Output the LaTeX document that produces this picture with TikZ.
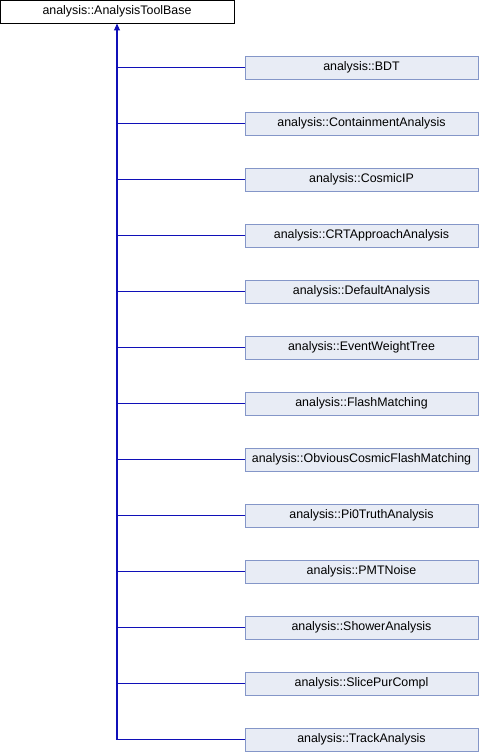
\documentclass[tikz,border=0pt]{standalone}
\usepackage{fontspec}
\setmainfont{Liberation Sans}
\usetikzlibrary{arrows.meta}
\definecolor{boxfill}{HTML}{E8ECF5}
\definecolor{boxdraw}{HTML}{8496C8}
\definecolor{linkcol}{HTML}{1010B8}
\tikzset{
  base/.style={draw=black, fill=white, line width=1pt, minimum width=234bp, minimum height=23bp, inner sep=0pt, font=\fontsize{12.4bp}{14bp}\selectfont},
  child/.style={draw=boxdraw, fill=boxfill, line width=1pt, minimum width=233bp, minimum height=23bp, inner sep=0pt, font=\fontsize{12.4bp}{14bp}\selectfont},
  linkline/.style={draw=linkcol, line width=1.1bp},
}
\begin{document}
\begin{tikzpicture}[x=1bp,y=-1bp]
\useasboundingbox (0,0) rectangle (480,752);
\node[base] (root) at (117,11.5) {analysis::AnalysisToolBase};
\node[child] (c0) at (361.5,67.5) {analysis::BDT};
\node[child] (c1) at (361.5,123.5) {analysis::ContainmentAnalysis};
\node[child] (c2) at (361.5,179.5) {analysis::CosmicIP};
\node[child] (c3) at (361.5,235.5) {analysis::CRTApproachAnalysis};
\node[child] (c4) at (361.5,291.5) {analysis::DefaultAnalysis};
\node[child] (c5) at (361.5,347.5) {analysis::EventWeightTree};
\node[child] (c6) at (361.5,403.5) {analysis::FlashMatching};
\node[child] (c7) at (361.5,459.5) {analysis::ObviousCosmicFlashMatching};
\node[child] (c8) at (361.5,515.5) {analysis::Pi0TruthAnalysis};
\node[child] (c9) at (361.5,571.5) {analysis::PMTNoise};
\node[child] (c10) at (361.5,627.5) {analysis::ShowerAnalysis};
\node[child] (c11) at (361.5,683.5) {analysis::SlicePurCompl};
\node[child] (c12) at (361.5,739.5) {analysis::TrackAnalysis};
\coordinate (bend) at (117,739.5);
\draw[linkline]
  (c0.west) -- (c0.west -| bend)
  (c1.west) -- (c1.west -| bend)
  (c2.west) -- (c2.west -| bend)
  (c3.west) -- (c3.west -| bend)
  (c4.west) -- (c4.west -| bend)
  (c5.west) -- (c5.west -| bend)
  (c6.west) -- (c6.west -| bend)
  (c7.west) -- (c7.west -| bend)
  (c8.west) -- (c8.west -| bend)
  (c9.west) -- (c9.west -| bend)
  (c10.west) -- (c10.west -| bend)
  (c11.west) -- (c11.west -| bend);
\draw[linkline, -{Triangle[length=7bp,width=6bp]}] (c12.west) -- (bend) -- (root.south);
\end{tikzpicture}
\end{document}
